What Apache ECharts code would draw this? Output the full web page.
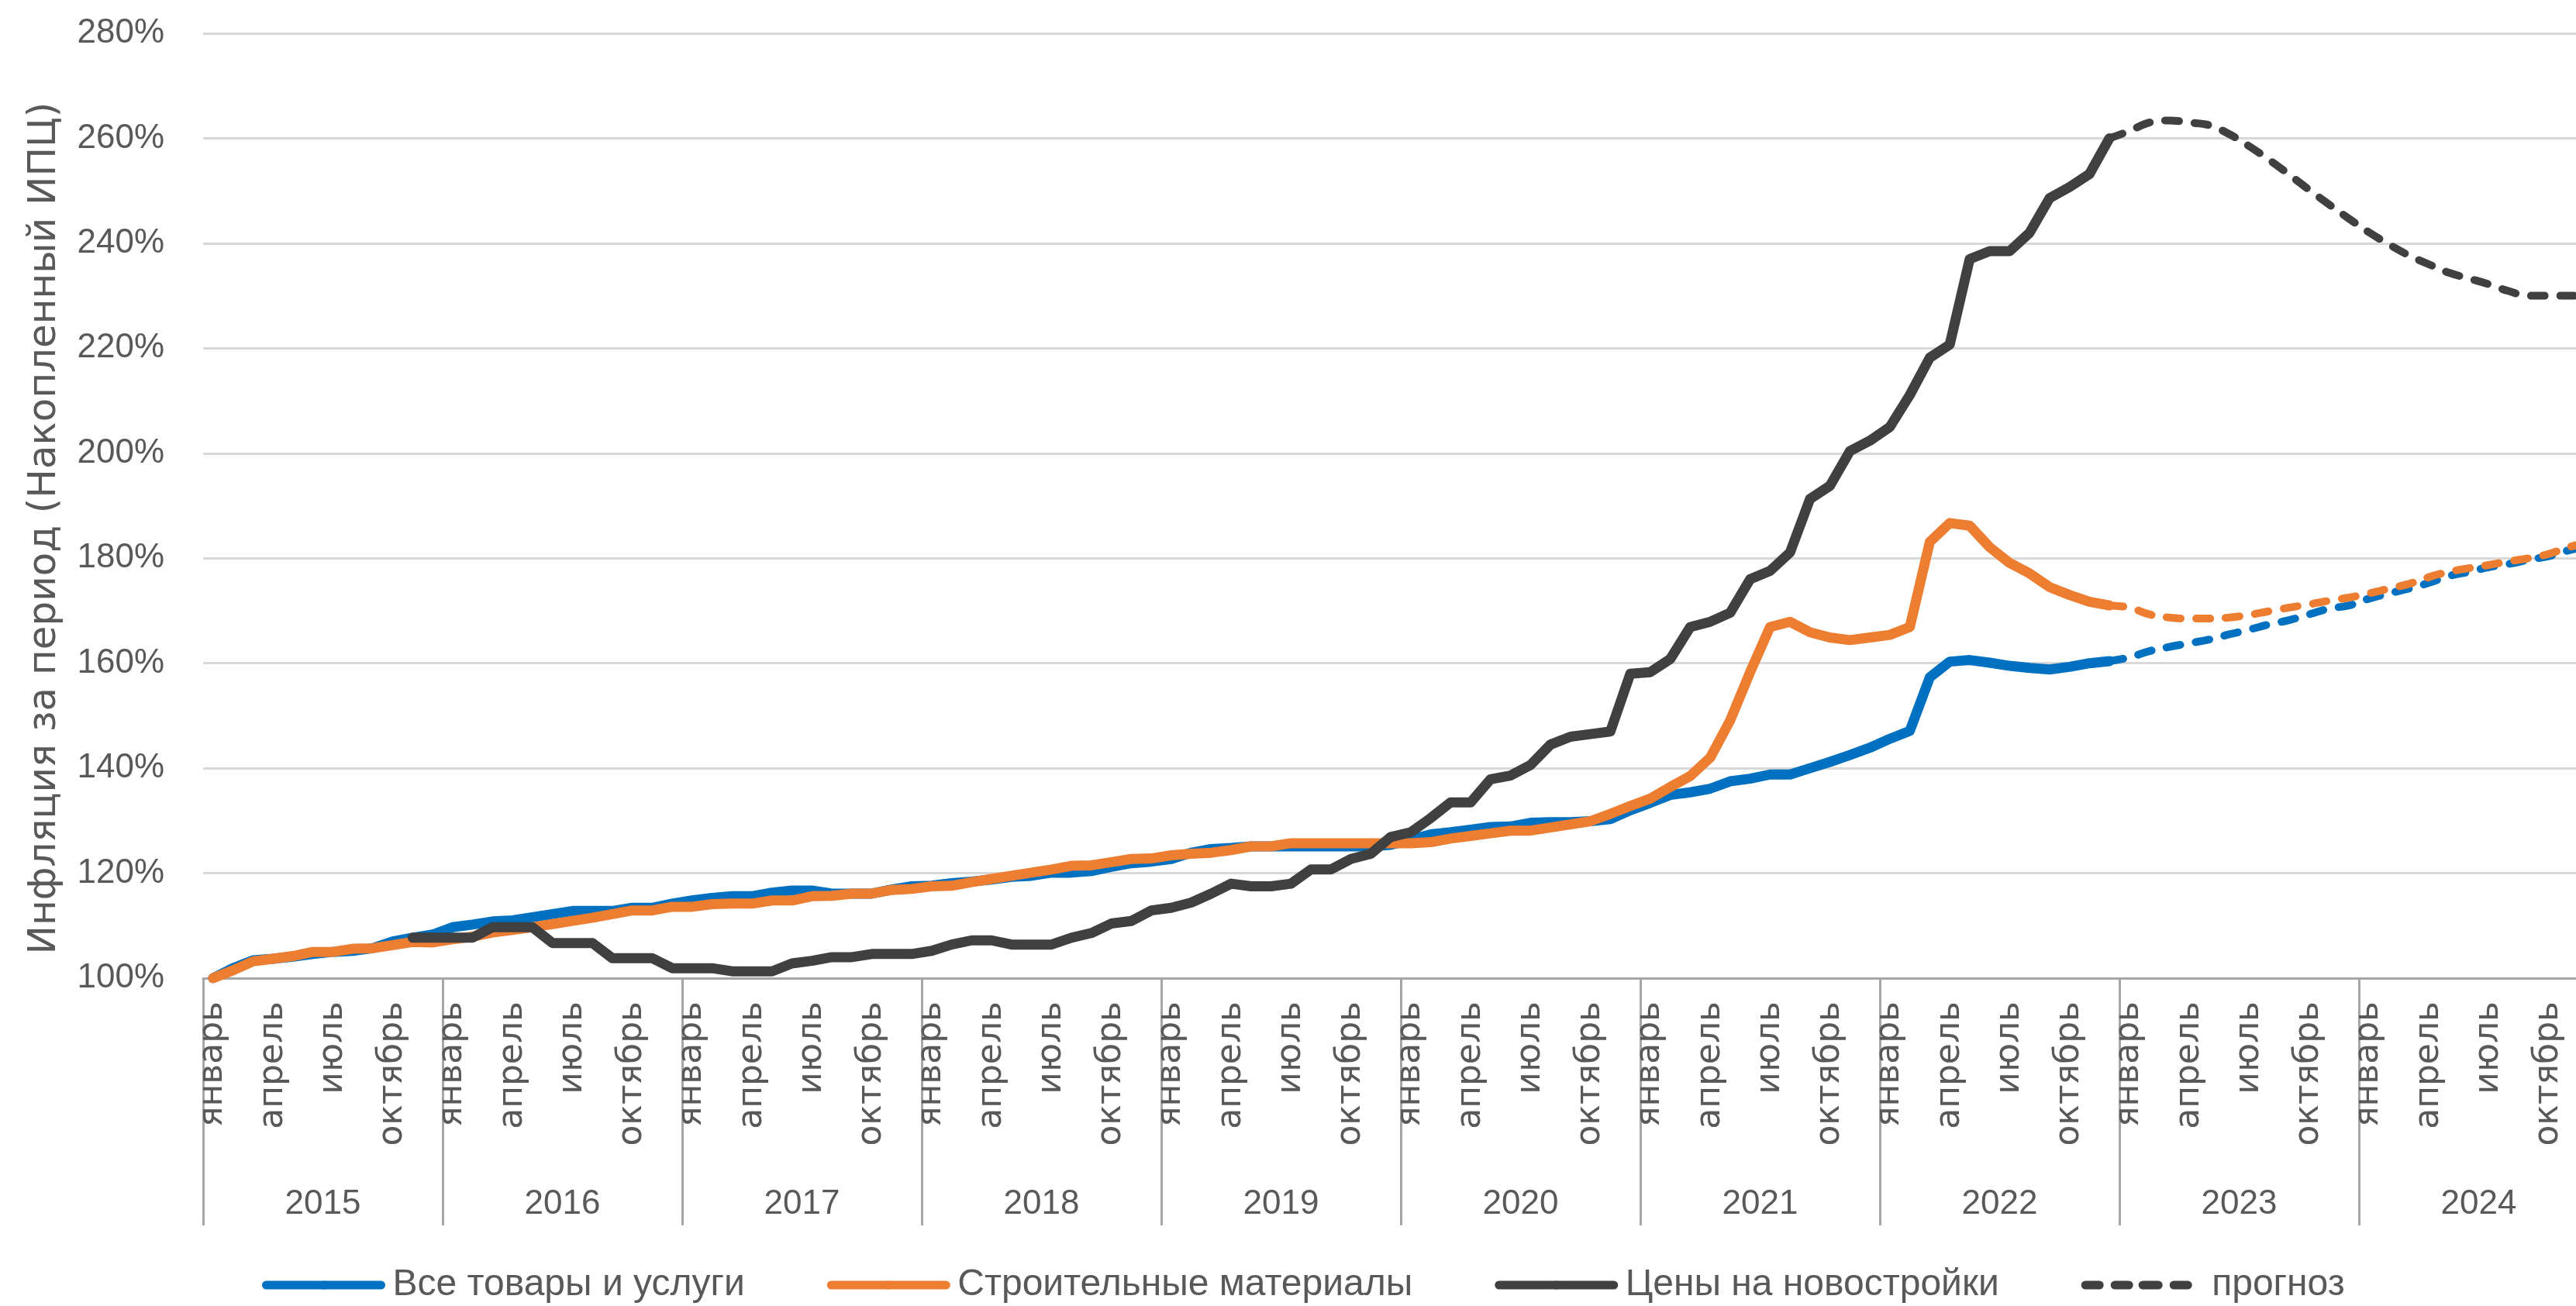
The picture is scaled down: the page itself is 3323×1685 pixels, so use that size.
<!DOCTYPE html>
<html>
<head>
<meta charset="utf-8">
<script src="https://cdn.jsdelivr.net/npm/echarts@6/dist/echarts.min.js"></script>
<style>
  html, body { margin: 0; padding: 0; background: #fff; }
  #chart_1 { width: 3323px; height: 1685px; }
</style>
</head>
<body>
<div id="chart_1"></div>
<script>
// подписи оси
var years = ['2015', '2016', '2017', '2018', '2019', '2020', '2021', '2022', '2023', '2024'];
var monthNames = ['январь', 'февраль', 'март', 'апрель', 'май', 'июнь',
    'июль', 'август', 'сентябрь', 'октябрь', 'ноябрь', 'декабрь'];
var yTicks = [100, 120, 140, 160, 180, 200, 220, 240, 260, 280];

// факт, январь 2015 - декабрь 2022, %
var allGoods = [
    100.0, 101.9, 103.4, 103.7, 104.1, 104.6, 105.0, 105.2, 105.7, 107.0, 107.7, 108.3,
    109.7, 110.2, 110.8, 111.0, 111.6, 112.2, 112.8, 112.8, 112.8, 113.4, 113.4, 114.2,
    114.8, 115.3, 115.6, 115.6, 116.3, 116.7, 116.7, 116.1, 116.1, 116.1, 116.9, 117.5,
    117.6, 118.1, 118.4, 118.8, 119.3, 119.5, 120.1, 120.1, 120.4, 121.2, 121.9, 122.2,
    122.7, 123.9, 124.6, 124.8, 125.1, 125.1, 125.1, 125.1, 125.1, 125.1, 125.1, 125.4,
    126.4, 127.4, 127.8, 128.3, 128.8, 128.9, 129.6, 129.7, 129.7, 129.9, 130.3, 132.0,
    133.4, 134.9, 135.4, 136.1, 137.5, 138.0, 138.8, 138.8, 140.0, 141.2, 142.5, 143.9,
    145.6, 147.1, 157.3, 160.3, 160.6, 160.1, 159.5, 159.1, 158.8, 159.3, 160.0, 160.4
];
var buildMaterials = [
    100.0, 101.5, 103.2, 103.7, 104.2, 105.0, 105.0, 105.6, 105.7, 106.3, 106.9, 106.8,
    107.4, 107.9, 108.7, 109.2, 109.7, 110.3, 110.9, 111.5, 112.2, 112.9, 112.9, 113.6,
    113.6, 114.1, 114.2, 114.2, 114.8, 114.8, 115.6, 115.7, 116.1, 116.1, 116.8, 117.0,
    117.5, 117.6, 118.3, 118.9, 119.5, 120.1, 120.7, 121.4, 121.5, 122.1, 122.7, 122.8,
    123.4, 123.7, 123.9, 124.4, 125.1, 125.1, 125.7, 125.7, 125.7, 125.7, 125.7, 125.7,
    125.7, 125.9, 126.6, 127.1, 127.6, 128.1, 128.1, 128.7, 129.3, 129.9, 131.3, 132.8,
    134.2, 136.4, 138.5, 142.0, 149.1, 158.3, 166.9, 167.9, 165.9, 164.9, 164.4, 164.9,
    165.4, 166.9, 183.1, 186.7, 186.2, 182.1, 179.1, 177.1, 174.5, 173.0, 171.7, 171.0
];
// новостройки: с ноября 2015
var newBuildingsStart = 10;
var newBuildings = [
    107.7, 107.7,
    107.7, 107.7, 109.7, 109.7, 109.7, 106.7, 106.7, 106.7, 103.8, 103.8, 103.8, 101.9,
    101.9, 101.9, 101.3, 101.3, 101.3, 102.8, 103.3, 104.0, 104.0, 104.6, 104.6, 104.6,
    105.2, 106.4, 107.2, 107.2, 106.4, 106.4, 106.4, 107.7, 108.6, 110.4, 110.9, 112.9,
    113.4, 114.4, 116.1, 118.0, 117.5, 117.5, 118.0, 120.7, 120.7, 122.7, 123.7, 126.9,
    127.8, 130.5, 133.5, 133.5, 137.9, 138.6, 140.6, 144.5, 146.0, 146.5, 147.0, 158.0,
    158.3, 160.8, 166.9, 167.9, 169.6, 176.0, 177.6, 181.1, 191.3, 193.8, 200.4, 202.4,
    205.0, 211.1, 218.2, 220.7, 237.0, 238.5, 238.5, 242.0, 248.6, 250.7, 253.2, 260.0
];

// прогноз, декабрь 2022 - декабрь 2024
var forecastStart = 95;
var allGoodsForecast = [160.4, 161.1, 162.3, 163.1, 163.8, 164.5, 165.5, 166.4, 167.4, 168.2, 169.3, 170.4,
    171.0, 172.3, 173.3, 174.2, 175.3, 176.6, 177.4, 178.3, 178.9, 179.7, 180.4, 181.5, 182.3];
var buildMaterialsForecast = [171.0, 170.6, 169.3, 168.7, 168.5, 168.5, 168.7, 169.2, 169.9, 170.6, 171.2, 171.9,
    172.5, 173.3, 174.2, 175.1, 176.4, 177.4, 178.1, 178.7, 179.4, 180.0, 180.8, 182.1, 183.0];
var newBuildingsForecast = [260.0, 261.4, 263.0, 263.4, 263.0, 262.5, 260.8, 258.5, 255.9, 253.1, 250.2, 247.4,
    244.7, 242.1, 239.8, 237.7, 236.0, 234.4, 233.3, 232.2, 230.9, 230.0, 230.0, 230.0, 230.0];

var categories = [];
years.forEach(function (y) {
    monthNames.forEach(function (m) { categories.push(m + ' ' + y); });
});

// дополняем пропусками до длины оси
function pad(values, start) {
    var out = [];
    for (var i = 0; i < categories.length; i++) {
        var k = i - start;
        out.push(k >= 0 && k < values.length ? values[k] : null);
    }
    return out;
}

var sans = "'Liberation Sans', sans-serif";
var wide = "'DejaVu Sans', sans-serif";
var gray = '#595959';
var axisGray = '#A6A6A6';

function lineSeries(name, color, data, dashed) {
    return {
        name: name,
        type: 'line',
        data: data,
        symbol: 'none',
        smooth: dashed ? 0.4 : false,
        connectNulls: false,
        lineStyle: {
            color: color,
            width: dashed ? 10 : 13,
            type: dashed ? [18, 20] : 'solid',
            cap: 'round',
            join: 'round'
        },
        itemStyle: { color: color },
        emphasis: { disabled: true }
    };
}

var option1 = {
    animation: false,
    backgroundColor: '#fff',
    grid: {
        left: 262,
        right: -29,
        top: 43,
        bottom: 423,
        containLabel: false,
        outerBoundsMode: 'none'
    },
    legend: {
        data: ['Все товары и услуги', 'Строительные материалы', 'Цены на новостройки', 'прогноз'],
        left: 333,
        top: 1629,
        itemWidth: 148,
        itemHeight: 14,
        itemGap: 106,
        lineStyle: { width: 11 },
        textStyle: {
            fontFamily: sans,
            fontSize: 48,
            color: gray,
            padding: [0, 0, 0, 10]
        }
    },
    xAxis: [
        {
            type: 'category',
            data: categories,
            boundaryGap: true,
            position: 'bottom',
            axisLine: { show: true, lineStyle: { color: axisGray, width: 3 } },
            axisTick: { show: false },
            splitLine: { show: false },
            axisLabel: {
                interval: 2,
                rotate: 90,
                margin: 30,
                fontFamily: wide,
                fontSize: 44,
                color: gray,
                formatter: function (value) {
                    return value.split(' ')[0];
                }
            }
        },
        {
            type: 'category',
            data: years,
            boundaryGap: true,
            position: 'bottom',
            axisLine: { show: false },
            axisTick: {
                show: true,
                interval: 0,
                length: 319,
                lineStyle: { color: axisGray, width: 3 }
            },
            splitLine: { show: false },
            axisLabel: {
                interval: 0,
                margin: 270,
                fontFamily: sans,
                fontSize: 44,
                color: gray
            }
        }
    ],
    yAxis: {
        type: 'value',
        min: yTicks[0],
        max: yTicks[yTicks.length - 1],
        interval: 20,
        name: 'Инфляция за период (Накопленный ИПЦ)',
        nameLocation: 'middle',
        nameRotate: 90,
        nameGap: 179,
        nameTextStyle: {
            fontFamily: wide,
            fontSize: 50,
            color: gray,
            padding: [0, 58, 0, 0]
        },
        axisLine: { show: false },
        axisTick: { show: false },
        axisLabel: {
            margin: 50,
            fontFamily: sans,
            fontSize: 44,
            color: gray,
            formatter: '{value}%'
        },
        splitLine: { show: true, lineStyle: { color: '#D9D9D9', width: 3 } }
    },
    series: [
        lineSeries('Все товары и услуги', '#0070C0', pad(allGoods, 0), false),
        lineSeries('Строительные материалы', '#ED7D31', pad(buildMaterials, 0), false),
        lineSeries('Цены на новостройки', '#404040', pad(newBuildings, newBuildingsStart), false),
        lineSeries('Все товары и услуги', '#0070C0', pad(allGoodsForecast, forecastStart), true),
        lineSeries('Строительные материалы', '#ED7D31', pad(buildMaterialsForecast, forecastStart), true),
        lineSeries('прогноз', '#404040', pad(newBuildingsForecast, forecastStart), true)
    ]
};

var myChart1 = echarts.init(document.getElementById('chart_1'));
myChart1.setOption(option1);
</script>
</body>
</html>
